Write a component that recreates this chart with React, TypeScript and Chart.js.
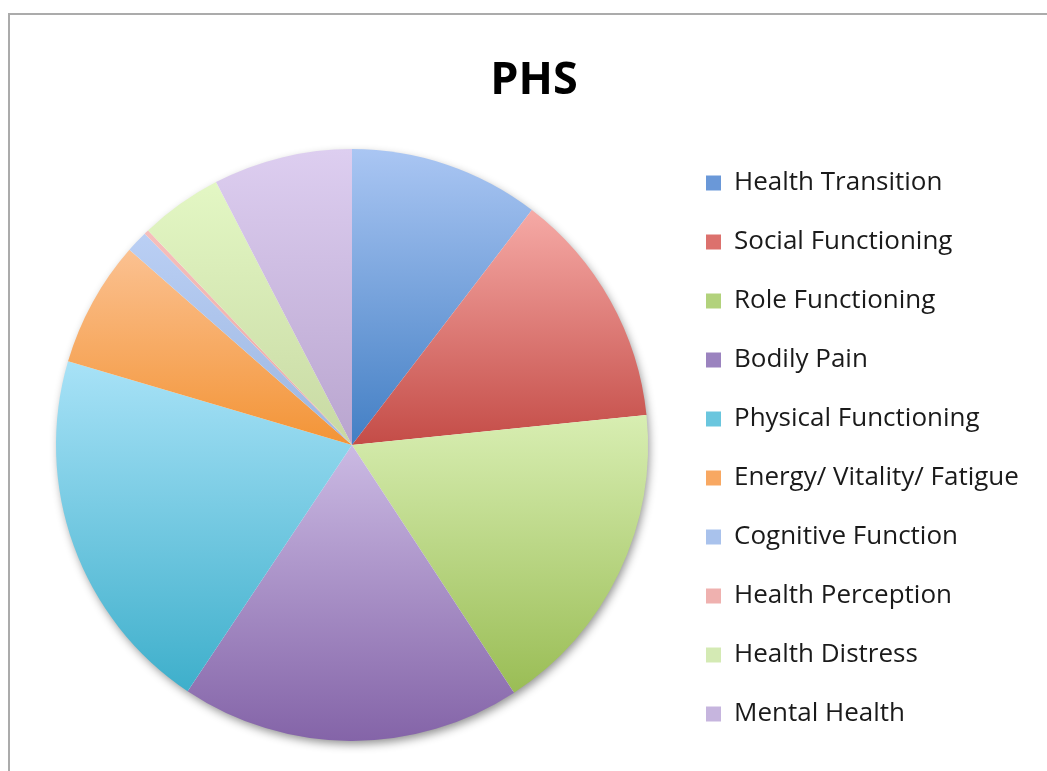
import React, { useEffect, useRef } from "react";
import { Chart, registerables } from "chart.js";

Chart.register(...registerables);

const chartTitle = "PHS";
const labels = [
  "Health Transition",
  "Social Functioning",
  "Role Functioning",
  "Bodily Pain",
  "Physical Functioning",
  "Energy/ Vitality/ Fatigue",
  "Cognitive Function",
  "Health Perception",
  "Health Distress",
  "Mental Health",
];
const values = [10.4, 13.0, 17.4, 18.6, 20.2, 6.9, 1.2, 0.25, 4.5, 7.6];

const topColors = ["#aac6f3", "#f6aaa6", "#d8eeb2", "#cbbae3", "#a8e2f7", "#fbc191", "#bacff4", "#f6bebb", "#e3f7c4", "#ddcef0"];
const bottomColors = ["#437fc4", "#c44c47", "#9abd55", "#8464a8", "#3eafcb", "#f39436", "#9cb6e0", "#eaa8a6", "#c8d9a3", "#b9a5cf"];
const legendColors = ["#6a98d8", "#dc716d", "#b2d27c", "#9b83bf", "#6ac6de", "#f8a862", "#a9c2ec", "#efb1af", "#d4eab4", "#c6b5de"];

const PIE_RADIUS = 296;
const LEGEND_WIDTH = 364;
const FONT = '"Open Sans", "DejaVu Sans", sans-serif';

function sliceGradient(c: any) {
  const chart = c.chart;
  const area = chart.chartArea;
  const i = c.dataIndex;
  if (!area || i === undefined) return bottomColors[i ?? 0];
  const data: number[] = c.dataset.data;
  const total = data.reduce((a, b) => a + b, 0);
  let before = 0;
  for (let k = 0; k < i; k++) before += data[k];
  const a0 = (before / total) * Math.PI * 2;
  const a1 = ((before + data[i]) / total) * Math.PI * 2;
  const cy = (area.top + area.bottom) / 2;
  const r = PIE_RADIUS;
  const ys = [cy, cy - r * Math.cos(a0), cy - r * Math.cos(a1)];
  if (a0 <= 0) ys.push(cy - r);
  if (a0 < Math.PI && a1 > Math.PI) ys.push(cy + r);
  const yTop = Math.min(...ys);
  const yBot = Math.max(...ys);
  const g = chart.ctx.createLinearGradient(0, yTop, 0, yBot);
  g.addColorStop(0, topColors[i]);
  g.addColorStop(1, bottomColors[i]);
  return g;
}

const fixedLegendWidth = {
  id: "fixedLegendWidth",
  beforeLayout(chart: any) {
    const lg = chart.legend;
    if (lg && !lg.__fixed) {
      const fit = lg.fit.bind(lg);
      lg.fit = function () {
        fit();
        if (this.options.display) this.width = LEGEND_WIDTH;
      };
      lg.__fixed = true;
    }
  },
};

const pieShadow = {
  id: "pieShadow",
  beforeDatasetsDraw(chart: any) {
    const meta = chart.getDatasetMeta(0);
    const arc = meta.data[0];
    if (!arc) return;
    const ctx = chart.ctx;
    ctx.save();
    ctx.beginPath();
    ctx.arc(arc.x, arc.y, arc.outerRadius - 1, 0, Math.PI * 2);
    ctx.shadowColor = "rgba(0,0,0,0.45)";
    ctx.shadowBlur = 10;
    ctx.shadowOffsetX = 2;
    ctx.shadowOffsetY = 4;
    ctx.fillStyle = "#ffffff";
    ctx.fill();
    ctx.restore();
  },
};

export default function App() {
  const ref = useRef<HTMLCanvasElement | null>(null);

  useEffect(() => {
    if (!ref.current) return;
    const chart = new Chart(ref.current, {
      type: "pie",
      data: {
        labels,
        datasets: [
          {
            data: values,
            backgroundColor: sliceGradient as any,
            borderWidth: 0,
            radius: PIE_RADIUS,
          } as any,
        ],
      },
      options: {
        responsive: false,
        animation: false,
        events: [],
        layout: { padding: { top: 0, left: 31, right: 10, bottom: 11 } },
        plugins: {
          title: {
            display: true,
            text: chartTitle,
            color: "#000000",
            font: { family: FONT, size: 45, weight: "bold", lineHeight: 1.2 },
            padding: { top: 54, bottom: 22 },
          },
          legend: {
            display: true,
            position: "right",
            align: "end",
            fullSize: false,
            labels: {
              color: "#1a1a1a",
              font: { family: FONT, size: 26 },
              boxWidth: 15,
              boxHeight: 15,
              padding: 33,
              generateLabels: () =>
                labels.map((t, i) => ({
                  text: t,
                  fillStyle: legendColors[i],
                  strokeStyle: legendColors[i],
                  lineWidth: 0,
                  hidden: false,
                  index: i,
                  fontColor: "#1a1a1a",
                })),
            },
          },
          tooltip: { enabled: false },
        },
      } as any,
      plugins: [fixedLegendWidth, pieShadow],
    });
    return () => chart.destroy();
  }, []);

  return (
    <div
      style={{
        position: "fixed",
        left: 0,
        top: 0,
        width: 1047,
        height: 771,
        overflow: "hidden",
        background: "#ffffff",
      }}
    >
      <div
        style={{
          position: "absolute",
          left: 8,
          top: 13,
          width: 2000,
          height: 2000,
          border: "2px solid #ababab",
        }}
      />
      <canvas
        ref={ref}
        width={1047}
        height={771}
        style={{ position: "absolute", left: 0, top: 0, width: 1047, height: 771 }}
      />
    </div>
  );
}
